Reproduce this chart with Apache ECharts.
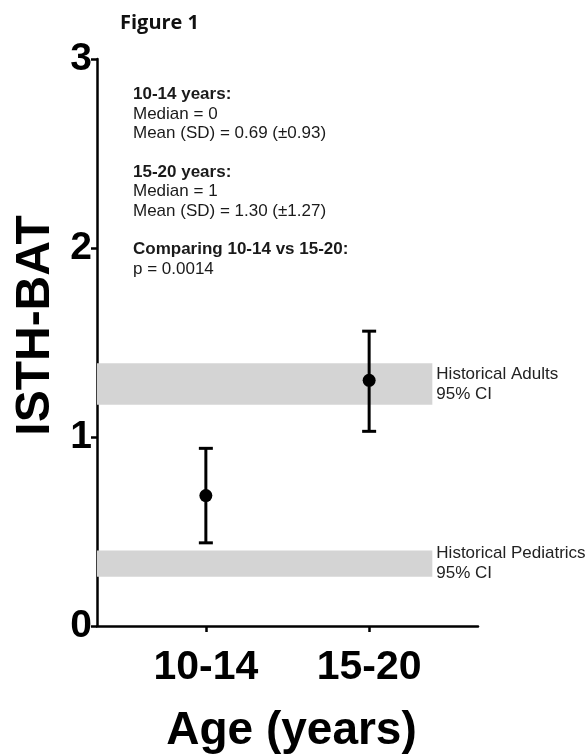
<!DOCTYPE html>
<html>
<head>
<meta charset="utf-8">
<script src="https://cdn.jsdelivr.net/npm/echarts@6/dist/echarts.min.js"></script>
<style>html,body{margin:0;padding:0;background:#fff}#c{width:586px;height:756px}</style>
</head>
<body>
<div id="c"></div>
<script>
var categories = ['10-14', '15-20'];
var categoryPos = [1, 2];
var means = [0.69, 1.30];
var errLow = [0.44, 1.03];
var errHigh = [0.94, 1.56];
var yTicks = [0, 1, 2, 3];
var bandAdults = [1.17, 1.39];
var bandPeds = [0.26, 0.40];
var bandLabels = ['Historical Adults\n95% CI', 'Historical Pediatrics\n95% CI'];
var annotLines = [
  ['b', '10-14 years:'], ['r', 'Median = 0'], ['r', 'Mean (SD) = 0.69 (\u00b10.93)'], ['r', ' '],
  ['b', '15-20 years:'], ['r', 'Median = 1'], ['r', 'Mean (SD) = 1.30 (\u00b11.27)'], ['r', ' '],
  ['b', 'Comparing 10-14 vs 15-20:'], ['r', 'p = 0.0014']
];

var FONT = '"Liberation Sans", Arial, sans-serif';
var chart = echarts.init(document.getElementById('c'), null, {renderer: 'canvas'});

var xMin = 1/3, xMax = 8/3, bandEnd = 2.387;

var annotText = annotLines.map(function (l) { return '{' + l[0] + '|' + l[1] + '}'; }).join('\n');

var option = {
  backgroundColor: '#fff',
  animation: false,
  grid: {left: 97, right: 108, top: 59, bottom: 130, containLabel: false, outerBoundsMode: 'none'},
  title: {
    text: 'Figure 1', left: 115, top: 8,
    textStyle: {fontFamily: '"Open Sans", sans-serif', fontWeight: 'bold', fontSize: 20, color: '#111'}
  },
  graphic: [{
    type: 'text', left: 133, top: 86,
    style: {
      text: annotText,
      rich: {
        b: {fontFamily: FONT, fontSize: 17, fontWeight: 'bold', fill: '#1a1a1a', lineHeight: 19.4},
        r: {fontFamily: FONT, fontSize: 17, fill: '#1a1a1a', lineHeight: 19.4}
      }
    }
  }],
  xAxis: {
    type: 'value', min: xMin, max: xMax,
    name: 'Age (years)', nameLocation: 'middle', nameGap: 82,
    nameTextStyle: {fontFamily: FONT, fontWeight: 'bold', fontSize: 46, color: '#000', padding: [0, 0, 0, 8]},
    splitLine: {show: false},
    axisLine: {show: true, lineStyle: {color: '#000', width: 2.5}},
    axisTick: {show: true, customValues: categoryPos, length: 6, lineStyle: {color: '#000', width: 2.5}},
    axisLabel: {
      customValues: categoryPos, margin: 21,
      fontFamily: FONT, fontWeight: 'bold', fontSize: 41, color: '#000',
      formatter: function (v) { var i = categoryPos.indexOf(Math.round(v)); return i >= 0 ? categories[i] : ''; }
    }
  },
  yAxis: {
    type: 'value', min: 0, max: 3, interval: 1,
    name: 'ISTH-BAT', nameLocation: 'middle', nameGap: 36, nameRotate: 90,
    nameTextStyle: {fontFamily: FONT, fontWeight: 'bold', fontSize: 48, color: '#000', padding: [0, 0, 0, 34]},
    splitLine: {show: false},
    axisLine: {show: true, lineStyle: {color: '#000', width: 2.5}},
    axisTick: {show: true, length: 6, lineStyle: {color: '#000', width: 2.5}},
    axisLabel: {
      margin: 5, fontFamily: FONT, fontWeight: 'bold', fontSize: 39, color: '#000',
      formatter: function (v) { return yTicks.indexOf(v) >= 0 ? String(v) : ''; }
    }
  },
  series: [
    {
      type: 'line', data: [], silent: true,
      markArea: {
        silent: true,
        itemStyle: {color: '#d4d4d4', opacity: 1},
        label: {
          show: true, position: 'right', distance: 4,
          fontFamily: FONT, fontSize: 17, color: '#222', lineHeight: 20, align: 'left'
        },
        data: [
          [{name: bandLabels[0], coord: [xMin, bandAdults[0]]}, {coord: [bandEnd, bandAdults[1]]}],
          [{name: bandLabels[1], coord: [xMin, bandPeds[0]]}, {coord: [bandEnd, bandPeds[1]]}]
        ]
      }
    },
    {
      type: 'custom', z: 5,
      data: categoryPos.map(function (p, i) { return [p, errLow[i], errHigh[i]]; }),
      renderItem: function (params, api) {
        var x = api.value(0);
        var lo = api.coord([x, api.value(1)]);
        var hi = api.coord([x, api.value(2)]);
        var hw = 7;
        var st = {stroke: '#000', lineWidth: 3};
        return {
          type: 'group',
          children: [
            {type: 'line', shape: {x1: lo[0], y1: lo[1], x2: hi[0], y2: hi[1]}, style: st},
            {type: 'line', shape: {x1: lo[0] - hw, y1: lo[1], x2: lo[0] + hw, y2: lo[1]}, style: st},
            {type: 'line', shape: {x1: hi[0] - hw, y1: hi[1], x2: hi[0] + hw, y2: hi[1]}, style: st}
          ]
        };
      }
    },
    {
      type: 'scatter', z: 6,
      symbol: 'circle', symbolSize: 13,
      itemStyle: {color: '#000', opacity: 1},
      data: categoryPos.map(function (p, i) { return [p, means[i]]; })
    }
  ]
};
chart.setOption(option);
</script>
</body>
</html>
